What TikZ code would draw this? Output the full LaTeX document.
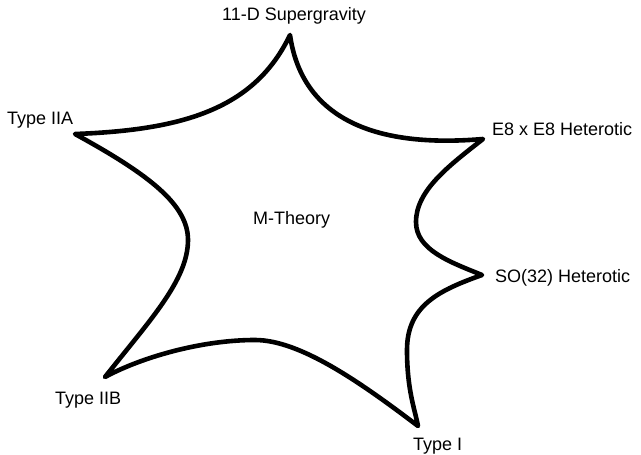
\documentclass[tikz,border=0pt]{standalone}
\usepackage{fontspec}
\setmainfont{Liberation Sans}
\begin{document}
\begin{tikzpicture}[x=1pt,y=-1pt,
  lbl/.style={anchor=base west,inner sep=0pt,font=\fontsize{18}{21.6}\selectfont},
  starline/.style={line width=4.6pt,line join=round,line cap=round}]
\path[use as bounding box] (0,0) rectangle (641,455);
\coordinate (T) at (290,35);
\coordinate (E) at (483,139);
\coordinate (S) at (482,275);
\coordinate (I) at (418,426);
\coordinate (B) at (105,377);
\coordinate (A) at (75,134);
\coordinate (m1) at (416,222);
\coordinate (m2) at (407,350);
\coordinate (m3) at (255,340);
\coordinate (m4) at (188,240);
\draw[starline] (A) .. controls (185,130) and (255,108) .. (T)
  .. controls (300,105) and (355,150) .. (E)
  .. controls (450,165) and (416,190) .. (m1)
  .. controls (416,250) and (450,262) .. (S)
  .. controls (440,290) and (407,305) .. (m2)
  .. controls (407,390) and (415,410) .. (I)
  .. controls (360,382) and (300,340) .. (m3)
  .. controls (200,340) and (140,358) .. (B)
  .. controls (150,320) and (188,280) .. (m4)
  .. controls (188,205) and (150,175) .. (A) -- cycle;
\node[lbl] (sugra) at (222,20.5) {11-D Supergravity};
\node[lbl] (iia) at (7,124) {Type IIA};
\node[lbl] (e8) at (492,135) {E8 x E8 Heterotic};
\node[lbl] (so32) at (495,282) {SO(32) Heterotic};
\node[lbl] (iib) at (55,404) {Type IIB};
\node[lbl] (ti) at (413,450) {Type I};
\node[lbl] (m) at (253,224.5) {M-Theory};
\end{tikzpicture}
\end{document}
